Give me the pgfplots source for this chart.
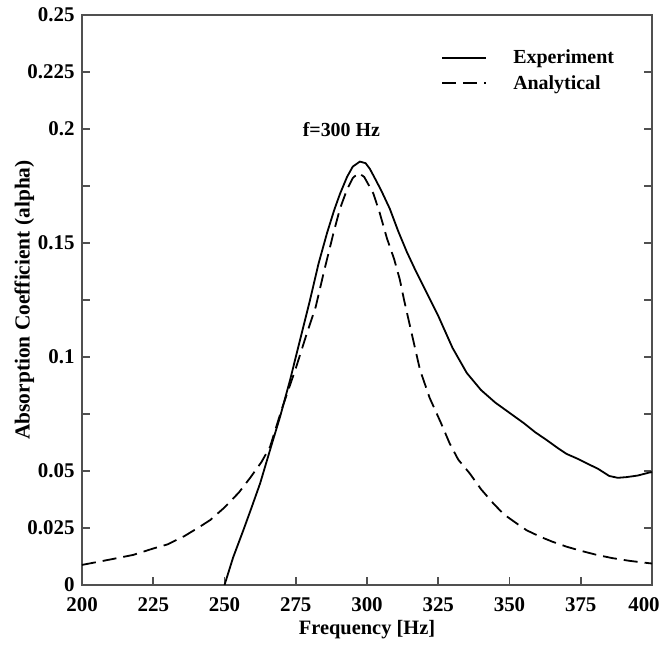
\documentclass[border=0pt]{standalone}
\usepackage{fontspec}
\setmainfont{Liberation Serif}
\usepackage{pgfplots}
\pgfplotsset{compat=1.18}
\definecolor{axgray}{HTML}{505050}
\begin{document}
\begin{tikzpicture}
\begin{axis}[
  scale only axis,
  width=570bp, height=570bp,
  xmin=200, xmax=400, ymin=0, ymax=0.25,
  xtick={200,225,...,375},
  extra x ticks={400},
  extra x tick style={xticklabel style={xshift=-8bp}},
  ytick={0,0.025,0.05,0.075,0.1,0.125,0.15,0.175,0.2,0.225,0.25},
  yticklabels={0,0.025,0.05,,0.1,,0.15,,0.2,0.225,0.25},
  xtick pos=lower, ytick pos=both,
  tick align=inside,
  major tick length=8bp,
  axis line style={axgray, line width=1.8bp},
  every tick/.style={axgray, line width=1.6bp},
  /pgf/number format/assume math mode=true,
  scaled y ticks=false,
  xticklabel style={font=\fontsize{21}{24}\selectfont\bfseries, yshift=-9bp},
  yticklabel style={font=\fontsize{21}{24}\selectfont\bfseries, xshift=-4bp},
  xlabel={Frequency [Hz]},
  ylabel={Absorption Coefficient (alpha)},
  xlabel style={font=\fontsize{20.5}{24}\selectfont\bfseries, at={(axis description cs:0.5,-0.078)}, anchor=center},
  ylabel style={font=\fontsize{21.5}{24}\selectfont\bfseries, at={(axis description cs:-0.101,0.5)}, anchor=center},
  legend style={draw=none, fill=none, font=\fontsize{20}{23}\selectfont\bfseries,
    at={(axis description cs:0.625,0.944)}, anchor=north west, row sep=8bp,
    nodes={inner xsep=0bp, inner ysep=1bp}},
  legend cell align=left,
  legend image code/.code={\draw[#1] (0bp,0bp) -- (44bp,0bp);},
  clip=false,
]
\path (axis description cs:-0.1439,-0.105) rectangle (axis description cs:1.0228,1.0263);
\addplot[black, line width=1.8bp] coordinates {
(250,0) (253,0.012) (256.6,0.024) (259.5,0.034) (262.5,0.0446) (266.5,0.0614)
(269.5,0.0738) (273,0.0899) (277,0.110) (280,0.125) (283,0.141) (286,0.1545)
(288.5,0.1645) (290.5,0.1715) (293,0.179) (295,0.1835) (297.5,0.1857) (299.5,0.185)
(301,0.1825) (302.5,0.179) (305,0.173) (308,0.165) (311,0.155) (314,0.146)
(317,0.138) (321,0.128) (325,0.118) (330,0.104) (335,0.093) (340,0.0855)
(345,0.080) (350,0.0755) (355,0.071) (359,0.067) (363,0.0636) (367,0.060)
(370,0.0575) (374,0.0553) (377,0.0534) (381,0.051) (385,0.0478) (388,0.047)
(391,0.0473) (395,0.048) (399,0.0493) (400,0.0495)
};
\addlegendentry{\hspace{26bp}Experiment}
\addplot[black, line width=1.8bp, dash pattern=on 14bp off 7bp] coordinates {
(200,0.0088) (205,0.0100) (210,0.0112) (218,0.0132) (225,0.0160) (230,0.0178)
(236,0.0215) (241.4,0.0256) (245,0.0285) (250,0.0340) (255,0.0405) (259,0.0470)
(263,0.0540) (266,0.0607) (270,0.0768) (275,0.095) (278.8,0.110) (282,0.122)
(285,0.138) (288.2,0.1542) (290.5,0.165) (292.9,0.1732) (295,0.1785) (297,0.1807)
(299,0.179) (302.2,0.1718) (304.5,0.163) (307,0.152) (309.5,0.143) (311.5,0.134)
(313,0.125) (315,0.114) (318.6,0.0943) (322,0.082) (326,0.0709) (329,0.0621) (332,0.055)
(336,0.049) (340,0.042) (344.3,0.0358) (348,0.031) (352.5,0.027) (356,0.024)
(360.7,0.0212) (365,0.019) (370,0.0168) (375,0.015) (380.6,0.0132) (386,0.0118)
(392,0.0106) (399.3,0.0095) (400,0.0094)
};
\addlegendentry{\hspace{26bp}Analytical}
\node[font=\fontsize{20}{23}\selectfont\bfseries] at (axis cs:291,0.1996) {f=300 Hz};
\end{axis}
\end{tikzpicture}
\end{document}
